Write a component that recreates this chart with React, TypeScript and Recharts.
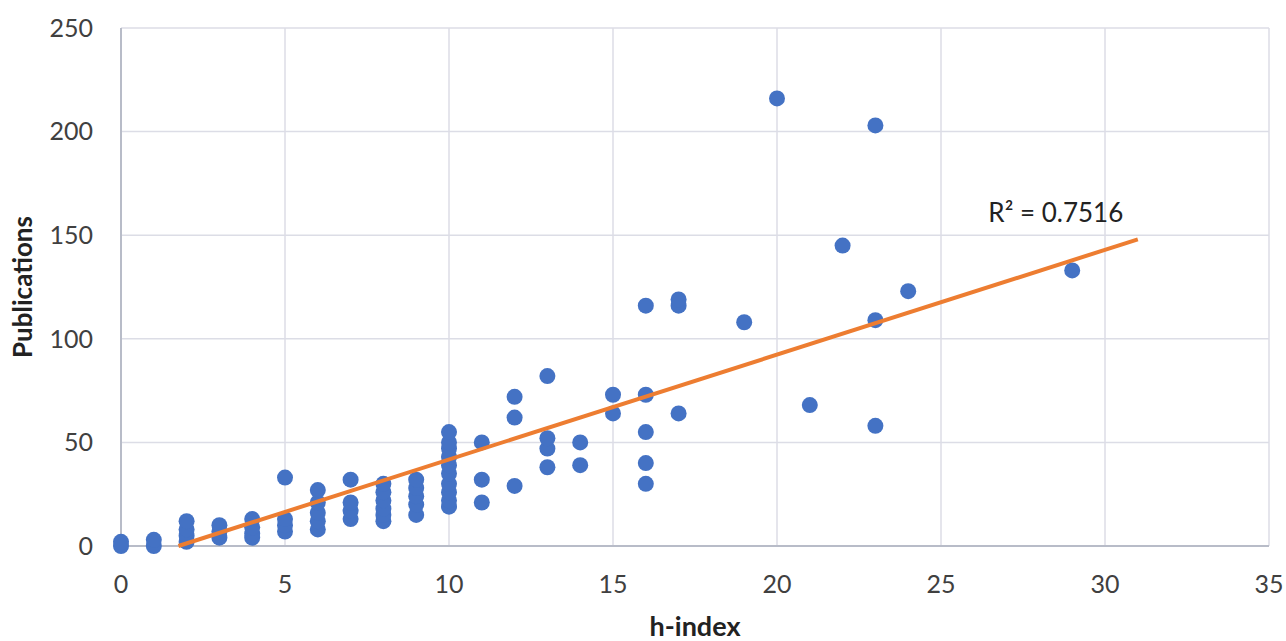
// Publications vs h-index scatter with linear trend (Recharts)

import { ScatterChart, Scatter, XAxis, YAxis, CartesianGrid, ReferenceDot, Label } from 'recharts';

// h-index value and the publication counts observed at that h-index
const hIndex = [0, 1, 2, 3, 4, 5, 6, 7, 8, 9, 10, 11, 12, 13, 14, 15, 16, 17, 19, 20, 21, 22, 23, 24, 29];
const pubsAtH = [
  [0, 2],
  [0, 3],
  [2, 5, 8, 12],
  [4, 7, 10],
  [4, 6, 9, 13],
  [7, 10, 13, 33],
  [8, 12, 16, 21, 27],
  [13, 17, 21, 32],
  [12, 15, 18, 22, 26, 30],
  [15, 20, 24, 28, 32],
  [19, 22, 26, 30, 35, 39, 43, 47, 50, 55],
  [21, 32, 50],
  [29, 62, 72],
  [38, 47, 52, 82],
  [39, 50],
  [64, 73],
  [30, 40, 55, 73, 116],
  [64, 116, 119],
  [108],
  [216],
  [68],
  [145],
  [58, 109, 203],
  [123],
  [133],
];

const xTicks = [0, 5, 10, 15, 20, 25, 30, 35];
const yTicks = [0, 50, 100, 150, 200, 250];

// linear trend
const trendSlope = 5.06;
const trendIntercept = -8.86;
const trendEndX = 31;
const rSquared = '0.7516';

const points = hIndex.flatMap((h, i) => pubsAtH[i].map((p) => ({ x: h, y: p })));
const trendStartX = Math.max(0, -trendIntercept / trendSlope);
const trendPoints = [trendStartX, trendEndX].map((x) => ({ x, y: trendSlope * x + trendIntercept }));

const FONT = 'Lato, "Open Sans", sans-serif';
const TEXT = '#404040';

const Dot = (props: any) => <circle cx={props.cx} cy={props.cy} r={8} fill="#4472C4" />;

export default function App() {
  return (
    <div style={{ width: 1286, height: 641, background: '#fff', fontFamily: FONT }}>
      <style>{`body{margin:0}`}</style>
      <ScatterChart width={1286} height={641} margin={{ top: 28, right: 17, left: 51, bottom: 15 }}>
        <CartesianGrid stroke="#dcdde6" strokeWidth={1.5} />
        <XAxis
          type="number"
          dataKey="x"
          domain={[0, 35]}
          ticks={xTicks}
          height={80}
          tickLine={false}
          tickSize={0}
          tickMargin={29}
          axisLine={{ stroke: '#b8bcc8', strokeWidth: 2 }}
          tick={{ fill: TEXT, fontSize: 25, fontFamily: FONT }}
        >
          <Label value="h-index" position="insideBottom" offset={-10} style={{ fill: '#222', fontSize: 27, fontWeight: 700, fontFamily: FONT }} />
        </XAxis>
        <YAxis
          type="number"
          dataKey="y"
          domain={[0, 250]}
          ticks={yTicks}
          width={70}
          tickLine={false}
          tickSize={0}
          tickMargin={28}
          axisLine={{ stroke: '#b8bcc8', strokeWidth: 2 }}
          tick={{ fill: TEXT, fontSize: 25, fontFamily: FONT }}
        >
          <Label value="Publications" angle={-90} position="insideLeft" offset={-28} style={{ fill: '#222', fontSize: 26, fontWeight: 700, fontFamily: FONT, textAnchor: 'middle' }} />
        </YAxis>
        <Scatter data={points} shape={Dot} isAnimationActive={false} />
        <Scatter
          data={trendPoints}
          line={{ stroke: '#ED7D31', strokeWidth: 4 }}
          shape={() => null}
          isAnimationActive={false}
        />
        <ReferenceDot x={28.5} y={161} r={0} stroke="none" fill="none">
          <Label value={`R² = ${rSquared}`} position="center" style={{ fill: '#222', fontSize: 26, fontFamily: FONT }} />
        </ReferenceDot>
      </ScatterChart>
    </div>
  );
}
